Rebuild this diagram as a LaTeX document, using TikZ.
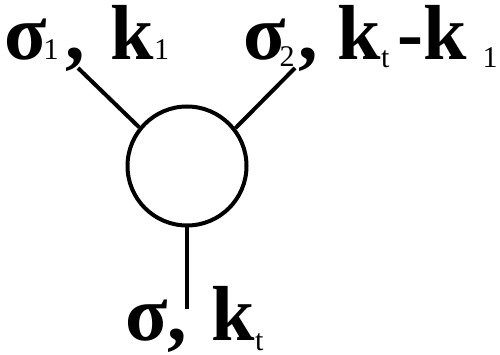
\documentclass[tikz,border=0pt]{standalone}
\usepackage{fontspec}
\setmainfont{Liberation Serif}
\usepackage{tikz}
\usetikzlibrary{positioning}

\newcommand{\lblfont}{\fontsize{78}{84}\selectfont\bfseries}
\newcommand{\lsub}[2][0pt]{\raisebox{#1}{\fontsize{30}{30}\selectfont\mdseries #2}}

\tikzset{
  leg/.style={line width=4pt},
  blob/.style={circle,draw,line width=4pt,minimum size=119pt,inner sep=0pt},
  lbl/.style={inner sep=0pt,anchor=base west,font=\lblfont}
}

\begin{document}
\begin{tikzpicture}[x=1pt,y=-1pt]
    \useasboundingbox (0,0) rectangle (500,355);
    \node[blob] (vert) at (187,166) {};
    \node[lbl] (lab1) at (4,60) {σ\hspace{-3pt}\lsub{1}\hspace{7pt}, \hspace{6pt}k\lsub{1}};
    \node[lbl] (lab2) at (243,60) {σ\hspace{-6pt}\lsub[-7pt]{2}\hspace{4pt}, k\lsub[-8pt]{t}\hspace{8pt}-k\hspace{16pt}\lsub[-8pt]{1}};
    \node[lbl] (labt) at (125,340) {σ, \hspace{5pt}k\lsub[-10pt]{t}};
    \coordinate (end1) at (78,68);
    \coordinate (end2) at (295,68);
    \coordinate (endt) at (187,309);
    \draw[leg] (end1) -- (vert.141);
    \draw[leg] (end2) -- (vert.38);
    \draw[leg] (vert.south) -- (endt);
\end{tikzpicture}
\end{document}
